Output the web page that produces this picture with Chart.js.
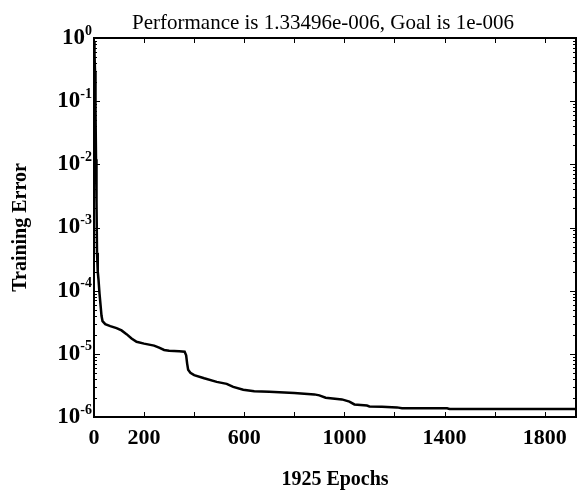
<!DOCTYPE html>
<html>
<head>
  <title>Training Error</title>
  <script src="https://cdn.jsdelivr.net/npm/chart.js"></script>
  <style>
    body { margin: 0; background: #fff; }
  </style>
</head>
<body>
  <canvas id="perf-chart" width="577" height="492"></canvas>
  <script>
    const epochs = [0, 2, 4, 6, 8, 10, 12, 15, 18, 22, 26, 30, 34, 45, 65, 90, 110, 130, 150, 170, 200,
      240, 260, 280, 300, 340, 362, 368, 372, 376, 385, 400, 440, 490, 530, 556, 596, 640, 700, 760,
      800, 880, 900, 925, 990, 1020, 1040, 1090, 1100, 1150, 1210, 1230, 1410, 1420, 1925];
    const trainError = [0.9, 0.55, 0.3, 0.08, 0.012, 2.5e-3, 4e-4, 2e-4, 1.5e-4, 9e-5, 6e-5, 4e-5, 3.3e-5,
      2.95e-5, 2.75e-5, 2.55e-5, 2.35e-5, 2.05e-5, 1.75e-5, 1.55e-5, 1.45e-5, 1.35e-5, 1.25e-5, 1.15e-5,
      1.12e-5, 1.1e-5, 1.08e-5, 9.5e-6, 7e-6, 5.6e-6, 5e-6, 4.6e-6, 4.1e-6, 3.6e-6, 3.35e-6, 3.0e-6,
      2.7e-6, 2.55e-6, 2.5e-6, 2.45e-6, 2.4e-6, 2.28e-6, 2.2e-6, 2.02e-6, 1.9e-6, 1.75e-6, 1.58e-6,
      1.52e-6, 1.47e-6, 1.45e-6, 1.42e-6, 1.38e-6, 1.37e-6, 1.335e-6, 1.335e-6];

    const xTickValues = [0, 200, 400, 600, 800, 1000, 1200, 1400, 1600, 1800];
    const xTickLabels = ['0', '200', '', '600', '', '1000', '', '1400', '', '1800'];
    const yExponents = [0, -1, -2, -3, -4, -5, -6];
    const titleText = 'Performance is 1.33496e-006, Goal is 1e-006';

    const serif = "'Liberation Serif', 'Times New Roman', serif";

    // box, inward ticks, 10^n labels and title, MATLAB style
    const axisBox = {
      id: 'axisBox',
      afterDatasetsDraw(chart) {
        const { ctx, chartArea: a, scales: { x, y } } = chart;
        ctx.save();
        ctx.strokeStyle = '#000';
        ctx.lineWidth = 1;
        ctx.beginPath();
        xTickValues.forEach(v => {
          const px = Math.round(x.getPixelForValue(v)) + 0.5;
          ctx.moveTo(px, a.bottom); ctx.lineTo(px, a.bottom - 5);
          ctx.moveTo(px, a.top); ctx.lineTo(px, a.top + 5);
        });
        yExponents.forEach(e => {
          for (let k = 1; k <= 9; k++) {
            const v = k * Math.pow(10, e);
            if (v > 1) continue;
            const len = k === 1 ? 6 : 3;
            const py = Math.round(y.getPixelForValue(v)) + 0.5;
            ctx.moveTo(a.left, py); ctx.lineTo(a.left + len, py);
            ctx.moveTo(a.right, py); ctx.lineTo(a.right - len, py);
          }
        });
        ctx.stroke();
        ctx.lineWidth = 2;
        ctx.strokeRect(a.left, a.top, a.right - a.left, a.bottom - a.top);

        ctx.fillStyle = '#000';
        ctx.textBaseline = 'middle';
        ctx.textAlign = 'left';
        yExponents.forEach(e => {
          const py = y.getPixelForValue(Math.pow(10, e));
          const exp = String(e);
          ctx.font = 'bold 14px ' + serif;
          const ew = ctx.measureText(exp).width;
          const ex = a.left - 2 - ew;
          ctx.fillText(exp, ex, py - 7);
          ctx.font = 'bold 23px ' + serif;
          const bw = ctx.measureText('10').width;
          ctx.fillText('10', ex - bw, py);
        });

        ctx.font = '21px ' + serif;
        ctx.textAlign = 'center';
        ctx.textBaseline = 'alphabetic';
        ctx.fillText(titleText, (a.left + a.right) / 2 - 12, 29);
        ctx.restore();
      }
    };

    const ctx = document.getElementById('perf-chart').getContext('2d');
    new Chart(ctx, {
      type: 'line',
      data: {
        labels: epochs,
        datasets: [{
          data: epochs.map((e, i) => ({ x: e, y: trainError[i] })),
          borderColor: '#000',
          borderWidth: 2.5,
          pointRadius: 0,
          tension: 0,
          fill: false
        }]
      },
      options: {
        responsive: false,
        animation: false,
        layout: { padding: { left: 8, right: 1, top: 38, bottom: 0 } },
        plugins: {
          legend: { display: false },
          tooltip: { enabled: false },
          title: { display: false }
        },
        scales: {
          x: {
            type: 'linear',
            min: 0,
            max: 1925,
            afterBuildTicks: s => { s.ticks = xTickValues.map(v => ({ value: v })); },
            ticks: {
              autoSkip: false,
              maxRotation: 0,
              padding: 8,
              color: '#000',
              font: { family: serif, size: 22, weight: 'bold' },
              callback: (v, i) => xTickLabels[i]
            },
            grid: { display: false, drawTicks: false },
            border: { display: false },
            title: {
              display: true,
              text: '1925 Epochs',
              color: '#000',
              font: { family: serif, size: 20, weight: 'bold' },
              padding: { top: 10, bottom: 0 }
            },
            afterFit: s => { s.height = 75; }
          },
          y: {
            type: 'logarithmic',
            min: 1e-6,
            max: 1,
            ticks: { display: false },
            grid: { display: false, drawTicks: false },
            border: { display: false },
            title: {
              display: true,
              text: 'Training Error',
              color: '#000',
              font: { family: serif, size: 20, weight: 'bold' },
              padding: { top: 1, bottom: 0 }
            },
            afterFit: s => { s.width = 86; }
          }
        }
      },
      plugins: [axisBox]
    });
  </script>
</body>
</html>
